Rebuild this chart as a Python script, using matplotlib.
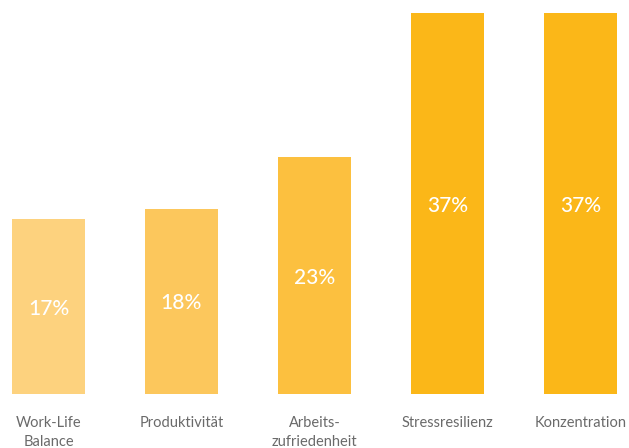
import numpy as np
import matplotlib.pyplot as plt

plt.rc('font', family=['Lato', 'DejaVu Sans'])

categories = ['Work-Life\nBalance', 'Produktivität', 'Arbeits-\nzufriedenheit', 'Stressresilienz', 'Konzentration']
values = [17, 18, 23, 37, 37]
colors = ['#FDD27E', '#FCC75C', '#FCC03F', '#FBB718', '#FBB718']

W, H = 629, 448
fig = plt.figure(figsize=(W/100., H/100.), dpi=100)
# baseline at y=394px, top of tallest bar at 13px
ax = fig.add_axes((0, 54./H, 1, (394-13.)/H))

xpos = np.arange(len(values))
ax.bar(xpos, values, width=0.549, color=colors)

for x, v in zip(xpos, values):
    ax.text(x, v/2. - 0.2, '%i%%' % v, ha='center', va='center', color='white',
            fontsize=15, fontweight='medium')

ax.set_xlim(-48.5/133., 4 + 48.5/133.)
ax.set_ylim(0, 37)
ax.set_xticks(xpos)
ax.set_xticklabels(categories, fontsize=10.5, color='#6a6a6a', linespacing=1.4)
ax.tick_params(axis='x', length=0, pad=16)
ax.set_yticks([])
for s in ax.spines.values():
    s.set_visible(False)

fig.savefig('out.png', dpi=100)
